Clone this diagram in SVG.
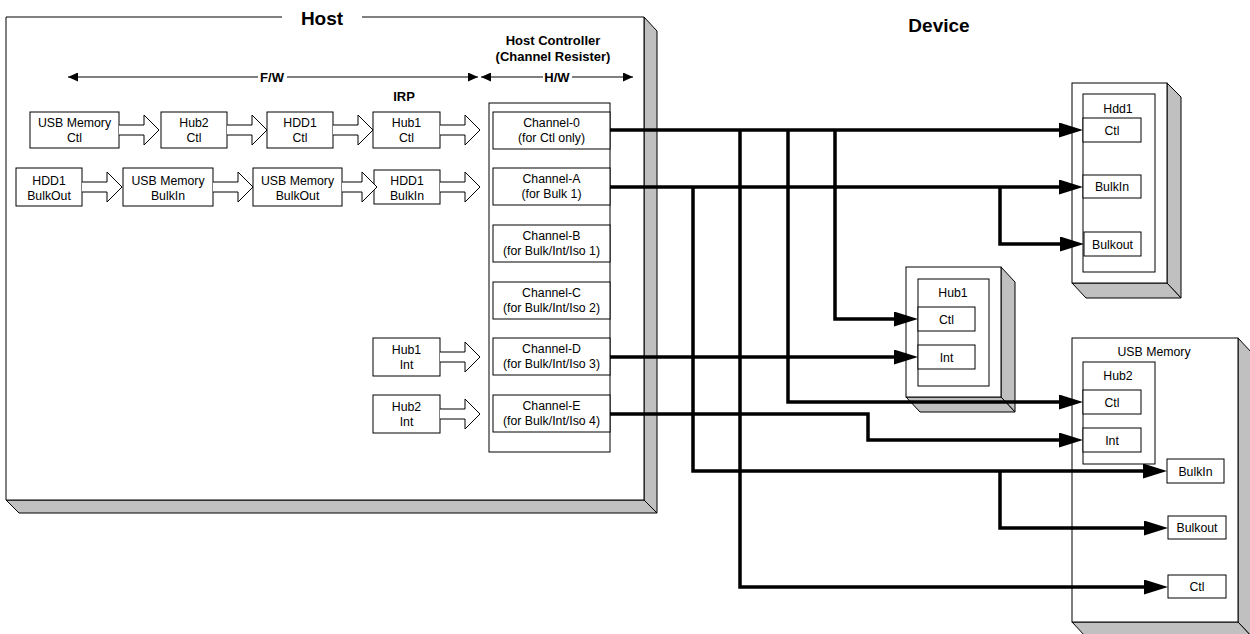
<svg xmlns="http://www.w3.org/2000/svg" width="1250" height="634" viewBox="0 0 1250 634">
<style>
.box{fill:#fff;stroke:#000;stroke-width:1}
.shade{fill:#c0c0c0;stroke:#000;stroke-width:1;stroke-linejoin:round}
.ln{fill:none;stroke:#000;stroke-width:1}
.t{font-family:"Liberation Sans",Arial,sans-serif;font-size:12.3px;text-anchor:middle;fill:#000}
.b{font-family:"Liberation Sans",Arial,sans-serif;font-weight:bold;text-anchor:middle;fill:#000}
.conn{fill:none;stroke:#000;stroke-width:3.5;stroke-linejoin:miter}
.ha{fill:#fff;stroke:#000;stroke-width:1}
</style>
<defs>
<marker id="ah" markerUnits="userSpaceOnUse" markerWidth="24" markerHeight="15" refX="12" refY="7.5" orient="auto"><path d="M0,0 L24,7.5 L0,15 z" fill="#000"/></marker>
<marker id="sa" markerUnits="userSpaceOnUse" markerWidth="10" markerHeight="9" refX="10" refY="4.5" orient="auto"><path d="M0,0 L10,4.5 L0,9 z" fill="#000"/></marker>
<path id="hol" d="M0,-5 H25 V-15 L40,0 L25,15 V5 H0"/>
</defs>

<g id="host">
<polygon class="shade" points="644,17 657,31 657,513 644,500"/>
<polygon class="shade" points="6,500 644,500 657,513 19,513"/>
<rect x="6" y="17" width="638" height="483" fill="#fff"/>
<path class="ln" d="M282,17 H6 V500 H644 V17 H362"/>
<text class="b" x="322" y="25" font-size="19">Host</text>
</g>

<g id="fw-hw">
<path class="ln" d="M258,77 H68" marker-end="url(#sa)"/>
<path class="ln" d="M287,77 H478" marker-end="url(#sa)"/>
<text class="b" x="272" y="82" font-size="13">F/W</text>
<path class="ln" d="M543,77 H481" marker-end="url(#sa)"/>
<path class="ln" d="M572,77 H633" marker-end="url(#sa)"/>
<text class="b" x="557" y="82" font-size="13">H/W</text>
<text class="b" x="553" y="45" font-size="13">Host Controller</text>
<text class="b" x="553" y="61" font-size="13">(Channel Resister)</text>
<text class="b" x="404" y="101" font-size="13">IRP</text>
</g>

<g id="irp-row1">
<g id="irp-usbctl"><rect class="box" x="30" y="112" width="89" height="36"/><text class="t" x="74.5" y="127">USB Memory</text><text class="t" x="74.5" y="142">Ctl</text></g>
<g id="irp-hub2ctl"><rect class="box" x="161" y="112" width="66" height="36"/><text class="t" x="194" y="127">Hub2</text><text class="t" x="194" y="142">Ctl</text></g>
<g id="irp-hdd1ctl"><rect class="box" x="267" y="112" width="66" height="36"/><text class="t" x="300" y="127">HDD1</text><text class="t" x="300" y="142">Ctl</text></g>
<g id="irp-hub1ctl"><rect class="box" x="373" y="112" width="67" height="36"/><text class="t" x="406.5" y="127">Hub1</text><text class="t" x="406.5" y="142">Ctl</text></g>
</g>
<g id="irp-row2">
<g id="irp-hdd1bo"><rect class="box" x="16" y="168" width="66" height="38"/><text class="t" x="49" y="185">HDD1</text><text class="t" x="49" y="200">BulkOut</text></g>
<g id="irp-usbbi"><rect class="box" x="123" y="168" width="90" height="38"/><text class="t" x="168" y="185">USB Memory</text><text class="t" x="168" y="200">BulkIn</text></g>
<g id="irp-usbbo"><rect class="box" x="253" y="168" width="89" height="38"/><text class="t" x="297.5" y="185">USB Memory</text><text class="t" x="297.5" y="200">BulkOut</text></g>
<g id="irp-hdd1bi"><rect class="box" x="374" y="170" width="66" height="34"/><text class="t" x="407" y="185">HDD1</text><text class="t" x="407" y="200">BulkIn</text></g>
</g>
<g id="irp-int">
<g id="irp-hub1int"><rect class="box" x="373" y="338" width="67" height="38"/><text class="t" x="406.5" y="354">Hub1</text><text class="t" x="406.5" y="369">Int</text></g>
<g id="irp-hub2int"><rect class="box" x="373" y="395" width="67" height="38"/><text class="t" x="406.5" y="411">Hub2</text><text class="t" x="406.5" y="426">Int</text></g>
</g>

<g id="irp-arrows" class="ha">
<use href="#hol" x="119" y="130"/>
<use href="#hol" x="227" y="130"/>
<use href="#hol" x="333" y="130"/>
<use href="#hol" x="440" y="130"/>
<use href="#hol" x="82" y="187"/>
<use href="#hol" x="213" y="187"/>
<path d="M342,182 H362 V172 L377,187 L362,202 V192 H342"/>
<use href="#hol" x="440" y="187"/>
<use href="#hol" x="440" y="357"/>
<use href="#hol" x="440" y="414"/>
</g>

<g id="channels">
<rect class="box" x="489" y="103" width="121" height="349"/>
<g id="ch0"><rect class="box" x="493" y="112" width="117" height="37"/><text class="t" x="551.5" y="127">Channel-0</text><text class="t" x="551.5" y="142">(for Ctl only)</text></g>
<g id="chA"><rect class="box" x="493" y="168" width="117" height="37"/><text class="t" x="551.5" y="183">Channel-A</text><text class="t" x="551.5" y="198">(for Bulk 1)</text></g>
<g id="chB"><rect class="box" x="493" y="225" width="117" height="37"/><text class="t" x="551.5" y="240">Channel-B</text><text class="t" x="551.5" y="255">(for Bulk/Int/Iso 1)</text></g>
<g id="chC"><rect class="box" x="493" y="282" width="117" height="37"/><text class="t" x="551.5" y="297">Channel-C</text><text class="t" x="551.5" y="312">(for Bulk/Int/Iso 2)</text></g>
<g id="chD"><rect class="box" x="493" y="338" width="117" height="37"/><text class="t" x="551.5" y="353">Channel-D</text><text class="t" x="551.5" y="368">(for Bulk/Int/Iso 3)</text></g>
<g id="chE"><rect class="box" x="493" y="395" width="117" height="37"/><text class="t" x="551.5" y="410">Channel-E</text><text class="t" x="551.5" y="425">(for Bulk/Int/Iso 4)</text></g>
</g>

<text class="b" x="939" y="32" font-size="19">Device</text>

<g id="dev-hdd1">
<polygon class="shade" points="1167,83 1181,97 1181,298 1167,283"/>
<polygon class="shade" points="1072,283 1167,283 1181,298 1086,298"/>
<rect class="box" x="1072" y="83" width="95" height="200"/>
<rect class="box" x="1083" y="94" width="72" height="178"/>
<text class="t" x="1118" y="113">Hdd1</text>
<rect class="box" x="1083" y="118" width="58" height="24"/><text class="t" x="1112" y="134.5">Ctl</text>
<rect class="box" x="1083" y="175" width="58" height="23"/><text class="t" x="1112" y="191">BulkIn</text>
<rect class="box" x="1084" y="232" width="57" height="24"/><text class="t" x="1112.5" y="248.5">Bulkout</text>
</g>

<g id="dev-hub1">
<polygon class="shade" points="1001,267 1015,282 1015,412 1001,397"/>
<polygon class="shade" points="906,397 1001,397 1015,412 920,412"/>
<rect class="box" x="906" y="267" width="95" height="130"/>
<rect class="box" x="918" y="279" width="71" height="107"/>
<text class="t" x="953" y="297">Hub1</text>
<rect class="box" x="918" y="307" width="57" height="24"/><text class="t" x="946.5" y="323.5">Ctl</text>
<rect class="box" x="918" y="345" width="57" height="24"/><text class="t" x="946.5" y="361.5">Int</text>
</g>

<g id="dev-usb">
<polygon class="shade" points="1238,338 1252,353 1252,637 1238,622"/>
<polygon class="shade" points="1072,622 1238,622 1252,637 1086,637"/>
<rect class="box" x="1072" y="338" width="166" height="284"/>
<text class="t" x="1154" y="356">USB Memory</text>
<rect class="box" x="1083" y="362" width="72" height="102"/>
<text class="t" x="1118" y="380">Hub2</text>
<rect class="box" x="1083" y="390" width="58" height="24"/><text class="t" x="1112" y="406.5">Ctl</text>
<rect class="box" x="1083" y="428" width="58" height="24"/><text class="t" x="1112" y="444.5">Int</text>
<rect class="box" x="1167" y="459" width="57" height="24"/><text class="t" x="1195.5" y="475.5">BulkIn</text>
<rect class="box" x="1168" y="516" width="58" height="23"/><text class="t" x="1197" y="532">Bulkout</text>
<rect class="box" x="1168" y="575" width="58" height="23"/><text class="t" x="1197" y="591">Ctl</text>
</g>

<g id="connectors" class="conn">
<path d="M610,130 H1071" marker-end="url(#ah)"/>
<path d="M835,130 V319 H906" marker-end="url(#ah)"/>
<path d="M788,130 V402 H1071" marker-end="url(#ah)"/>
<path d="M740,130 V587 H1156" marker-end="url(#ah)"/>
<path d="M610,187 H1071" marker-end="url(#ah)"/>
<path d="M1000,187 V244 H1072" marker-end="url(#ah)"/>
<path d="M693,187 V471 H1155" marker-end="url(#ah)"/>
<path d="M1000,471 V528 H1156" marker-end="url(#ah)"/>
<path d="M610,357 H906" marker-end="url(#ah)"/>
<path d="M610,414 H868 V440 H1071" marker-end="url(#ah)"/>
</g>
</svg>
